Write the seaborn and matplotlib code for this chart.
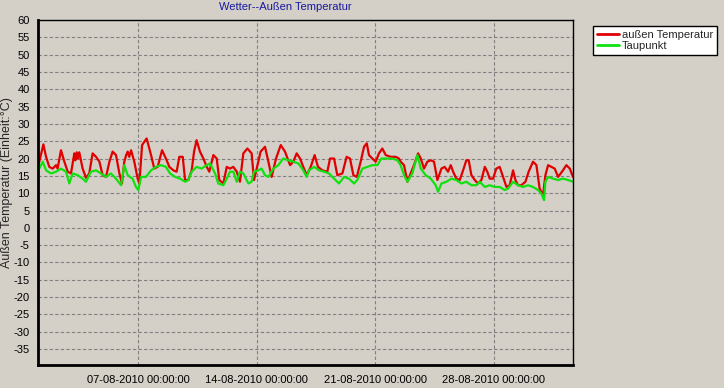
import numpy as np
import pandas as pd
import matplotlib
matplotlib.use("Agg")
import matplotlib.pyplot as plt
import matplotlib.dates as mdates
from matplotlib.lines import Line2D
import seaborn as sns

# ---- data (day of August 2010, fractional; temperature in °C) ----
temp_day = [1.10, 1.17, 1.41, 1.57, 1.76, 1.96, 2.16, 2.25, 2.45, 2.65, 2.85, 3.04, 3.24, 3.30, 3.38, 3.45,
            3.53, 3.73, 3.93, 4.12, 4.32, 4.52, 4.72, 4.91, 5.11, 5.31, 5.50, 5.70, 5.90, 6.05, 6.19, 6.30,
            6.39, 6.48, 6.59, 6.78, 6.98, 7.08, 7.24, 7.51, 7.77, 7.96, 8.16, 8.42, 8.65, 8.85,
            9.09, 9.28, 9.44, 9.64, 9.78, 9.97, 10.17, 10.31, 10.46, 10.66, 10.86, 11.06, 11.21, 11.45,
            11.65, 11.80, 12.04, 12.24, 12.43, 12.63, 12.83, 13.02, 13.22, 13.46, 13.71, 13.85, 14.01,
            14.24, 14.50, 14.70, 14.89, 15.15, 15.43, 15.68, 15.98, 16.17, 16.37, 16.57, 16.76, 16.96,
            17.20, 17.43, 17.63, 17.89, 18.18, 18.34, 18.58, 18.77, 19.07, 19.32, 19.52, 19.72, 19.92,
            20.15, 20.35, 20.51, 20.64, 20.84, 21.04, 21.23, 21.43, 21.63, 21.92, 22.22, 22.41, 22.51,
            22.71, 22.91, 23.10, 23.30, 23.54, 23.70, 23.89, 24.09, 24.29, 24.48, 24.68,
            24.92, 25.11, 25.31, 25.47, 25.61, 25.80, 26.00, 26.20, 26.39, 26.53, 26.69, 26.89, 27.08,
            27.28, 27.48, 27.63, 27.77, 27.97, 28.16, 28.36, 28.56, 28.76, 28.95, 29.15, 29.29, 29.44,
            29.64, 29.88, 30.07, 30.33, 30.53, 30.72, 30.92, 31.06, 31.22, 31.41, 31.61, 31.81, 32.04,
            32.30, 32.50, 32.69]
temp_val = [18.5, 19.1, 24.1, 20.5, 17.6, 17.1, 18.1, 17.1, 22.4, 19.1, 16.2, 15.7, 21.5, 19.5, 21.8, 20.0,
            21.8, 17.1, 14.4, 15.7, 21.5, 20.5, 19.1, 15.2, 14.7, 19.1, 22.0, 21.0, 15.7, 12.8, 19.1, 21.0,
            22.0, 20.5, 22.4, 19.1, 14.2, 12.8, 23.9, 25.8, 21.0, 17.1, 17.6, 22.4, 20.0, 17.6,
            16.6, 16.2, 20.5, 20.5, 13.8, 13.8, 16.6, 22.0, 25.3, 22.0, 20.0, 17.6, 16.2, 21.0,
            20.0, 13.8, 12.8, 17.6, 17.1, 17.6, 16.2, 13.3, 21.5, 22.9, 21.5, 13.8, 17.1,
            22.0, 23.4, 19.1, 14.7, 20.0, 23.9, 22.0, 18.1, 19.1, 21.5, 20.0, 17.6, 15.2,
            17.6, 21.0, 17.6, 16.6, 16.2, 20.0, 20.0, 15.2, 15.7, 20.5, 20.0, 15.2, 14.7,
            19.1, 23.4, 24.4, 21.0, 20.0, 19.1, 21.5, 22.9, 21.0, 20.5, 20.5, 20.0, 19.1,
            18.1, 13.3, 15.7, 18.1, 21.5, 20.0, 17.1, 19.1, 19.5, 19.1, 13.8,
            17.1, 17.6, 16.2, 18.1, 16.2, 14.2, 13.8, 16.6, 19.5, 19.5, 15.2, 13.8, 12.8,
            13.8, 17.6, 16.2, 14.2, 14.2, 17.1, 17.6, 14.7, 11.8, 12.3, 16.6, 13.8, 12.3,
            12.3, 13.3, 16.2, 19.1, 18.1, 11.3, 9.4, 15.2, 18.1, 17.6, 17.1, 14.7, 16.2,
            18.1, 17.1, 14.7]

dew_day = [1.10, 1.17, 1.37, 1.57, 1.86, 2.16, 2.45, 2.75, 2.94, 3.14, 3.44, 3.73, 3.93, 4.22, 4.52, 4.81,
           5.11, 5.40, 5.70, 6.00, 6.19, 6.39, 6.68, 6.88, 7.02, 7.18, 7.47, 7.77, 8.06, 8.36, 8.65,
           8.89, 9.19, 9.48, 9.78, 9.97, 10.17, 10.46, 10.76, 11.06, 11.25, 11.55, 11.74, 12.04, 12.24,
           12.43, 12.63, 12.83, 13.02, 13.22, 13.52, 13.71, 13.85, 14.11, 14.30, 14.50, 14.70, 15.00,
           15.29, 15.58, 15.88, 16.17, 16.47, 16.76, 16.96,
           17.10, 17.40, 17.69, 17.99, 18.28, 18.58, 18.87, 19.17, 19.46, 19.76, 19.95, 20.25, 20.55,
           20.84, 21.14, 21.37, 21.73, 22.02, 22.32, 22.51, 22.71, 22.91, 23.20, 23.50, 23.70, 23.99,
           24.29, 24.58, 24.72, 24.92, 25.21, 25.51, 25.80, 26.10, 26.39, 26.69, 26.98, 27.18, 27.48,
           27.77, 28.07, 28.36, 28.66, 28.85, 29.15, 29.44, 29.74, 30.03, 30.33, 30.63, 30.82, 30.98,
           31.06, 31.22, 31.51, 31.81, 32.10, 32.40, 32.69]
dew_val = [17.5, 17.1, 19.1, 16.6, 15.7, 16.2, 17.1, 16.2, 12.8, 15.7, 15.2, 14.2, 13.3, 16.2, 16.6, 15.7,
           14.7, 15.7, 14.2, 12.3, 18.1, 15.2, 14.2, 11.8, 10.9, 14.7, 14.7, 16.6, 17.6, 18.1, 17.6,
           15.7, 14.7, 14.2, 13.3, 13.8, 16.2, 17.6, 17.1, 18.1, 18.6, 15.7, 12.8, 12.3, 14.2,
           16.2, 16.2, 13.3, 16.2, 15.7, 12.8, 13.3, 16.2, 16.6, 17.1, 15.2, 14.7, 17.1,
           18.1, 20.0, 19.5, 19.1, 18.6, 16.6, 14.7,
           16.6, 17.6, 16.6, 16.2, 15.7, 14.2, 12.8, 14.7, 14.2, 12.8, 13.8, 17.1, 17.6,
           18.1, 18.1, 20.0, 20.0, 20.0, 19.5, 18.1, 15.2, 13.3, 15.7, 21.0, 17.1, 15.2,
           14.2, 12.3, 10.4, 12.8, 13.3, 14.2, 13.8, 12.8, 13.3, 12.3, 12.3, 13.3, 11.8,
           12.3, 11.8, 11.8, 10.9, 11.3, 13.3, 12.3, 11.8, 12.3, 11.8, 10.9, 9.9, 8.0,
           13.3, 14.7, 14.2, 13.8, 14.2, 13.8, 13.3]

series_names = ["außen Temperatur", "Taupunkt"]
series_colors = ["#E00000", "#10E010"]
major_dates = ["2010-08-07", "2010-08-14", "2010-08-21", "2010-08-28"]
y_ticks = list(range(-35, 61, 5))

base = pd.Timestamp("2010-07-31")
df = pd.concat([
    pd.DataFrame({"time": base + pd.to_timedelta(temp_day, unit="D"), "value": temp_val,
                  "series": series_names[0]}),
    pd.DataFrame({"time": base + pd.to_timedelta(dew_day, unit="D"), "value": dew_val,
                  "series": series_names[1]}),
], ignore_index=True)

sns.set_style("white")
plt.rcParams["font.family"] = ["Liberation Sans", "DejaVu Sans"]

bg = "#D4D0C8"
fig = plt.figure(figsize=(7.24, 3.88), dpi=100, facecolor=bg)
ax = fig.add_axes([38 / 724, 23 / 388, 535 / 724, 345 / 388])
ax.set_facecolor(bg)

sns.lineplot(data=df, x="time", y="value", hue="series", palette=dict(zip(series_names, series_colors)),
             estimator=None, linewidth=1.6, ax=ax, legend=False)

ax.set_xlim(base + pd.Timedelta(days=1.093), base + pd.Timedelta(days=32.69))
ax.set_ylim(-39.6, 60)
ax.set_yticks(y_ticks)
ax.set_yticklabels([str(v) for v in y_ticks], fontsize=8)

majors = [pd.Timestamp(d) for d in major_dates]
ax.set_xticks(majors)
ax.set_xticklabels([d.strftime("%d-%m-%Y %H:%M:%S") for d in majors], fontsize=8)
minors = [majors[0] + pd.Timedelta(days=1.75 * k) for k in range(-3, 15) if k % 4 != 0]
ax.set_xticks(minors, minor=True)

ax.tick_params(axis="y", which="major", direction="out", length=4, width=0.8,
               color="#606060", labelcolor="black", pad=2)
ax.tick_params(axis="x", which="major", direction="out", length=3, width=0.8,
               color="#909090", labelcolor="black", pad=4)
ax.tick_params(axis="x", which="minor", direction="out", length=3, width=0.8, color="#909090")

ax.grid(True, which="major", axis="both", linestyle=(0, (3, 2)), color="#808080", linewidth=0.8)
ax.set_axisbelow(True)

for side in ["left", "bottom"]:
    ax.spines[side].set_linewidth(2.0)
    ax.spines[side].set_color("black")
for side in ["top", "right"]:
    ax.spines[side].set_linewidth(1.0)
    ax.spines[side].set_color("black")
    ax.spines[side].set_visible(True)

ax.set_xlabel("")
ax.set_ylabel("Außen Temperatur (Einheit:°C)", fontsize=9)
ax.yaxis.set_label_coords(-0.046, 0.53)

fig.text(285 / 724, 1 - 7 / 388, "Wetter--Außen Temperatur", ha="center", va="center",
         fontsize=8, color="#1818A0")

handles = [Line2D([0], [0], color=c, linewidth=2) for c in series_colors]
leg = fig.legend(handles, series_names, loc="upper left", bbox_to_anchor=(593 / 724, 1 - 26 / 388),
                 fontsize=8, frameon=True, fancybox=False, framealpha=1, edgecolor="black",
                 handlelength=2.0, handletextpad=0.25, borderpad=0.35, labelspacing=0.1,
                 borderaxespad=0)
leg.get_frame().set_facecolor("white")
leg.get_frame().set_linewidth(1.0)

fig.savefig("out.png", dpi=100, facecolor=bg)
